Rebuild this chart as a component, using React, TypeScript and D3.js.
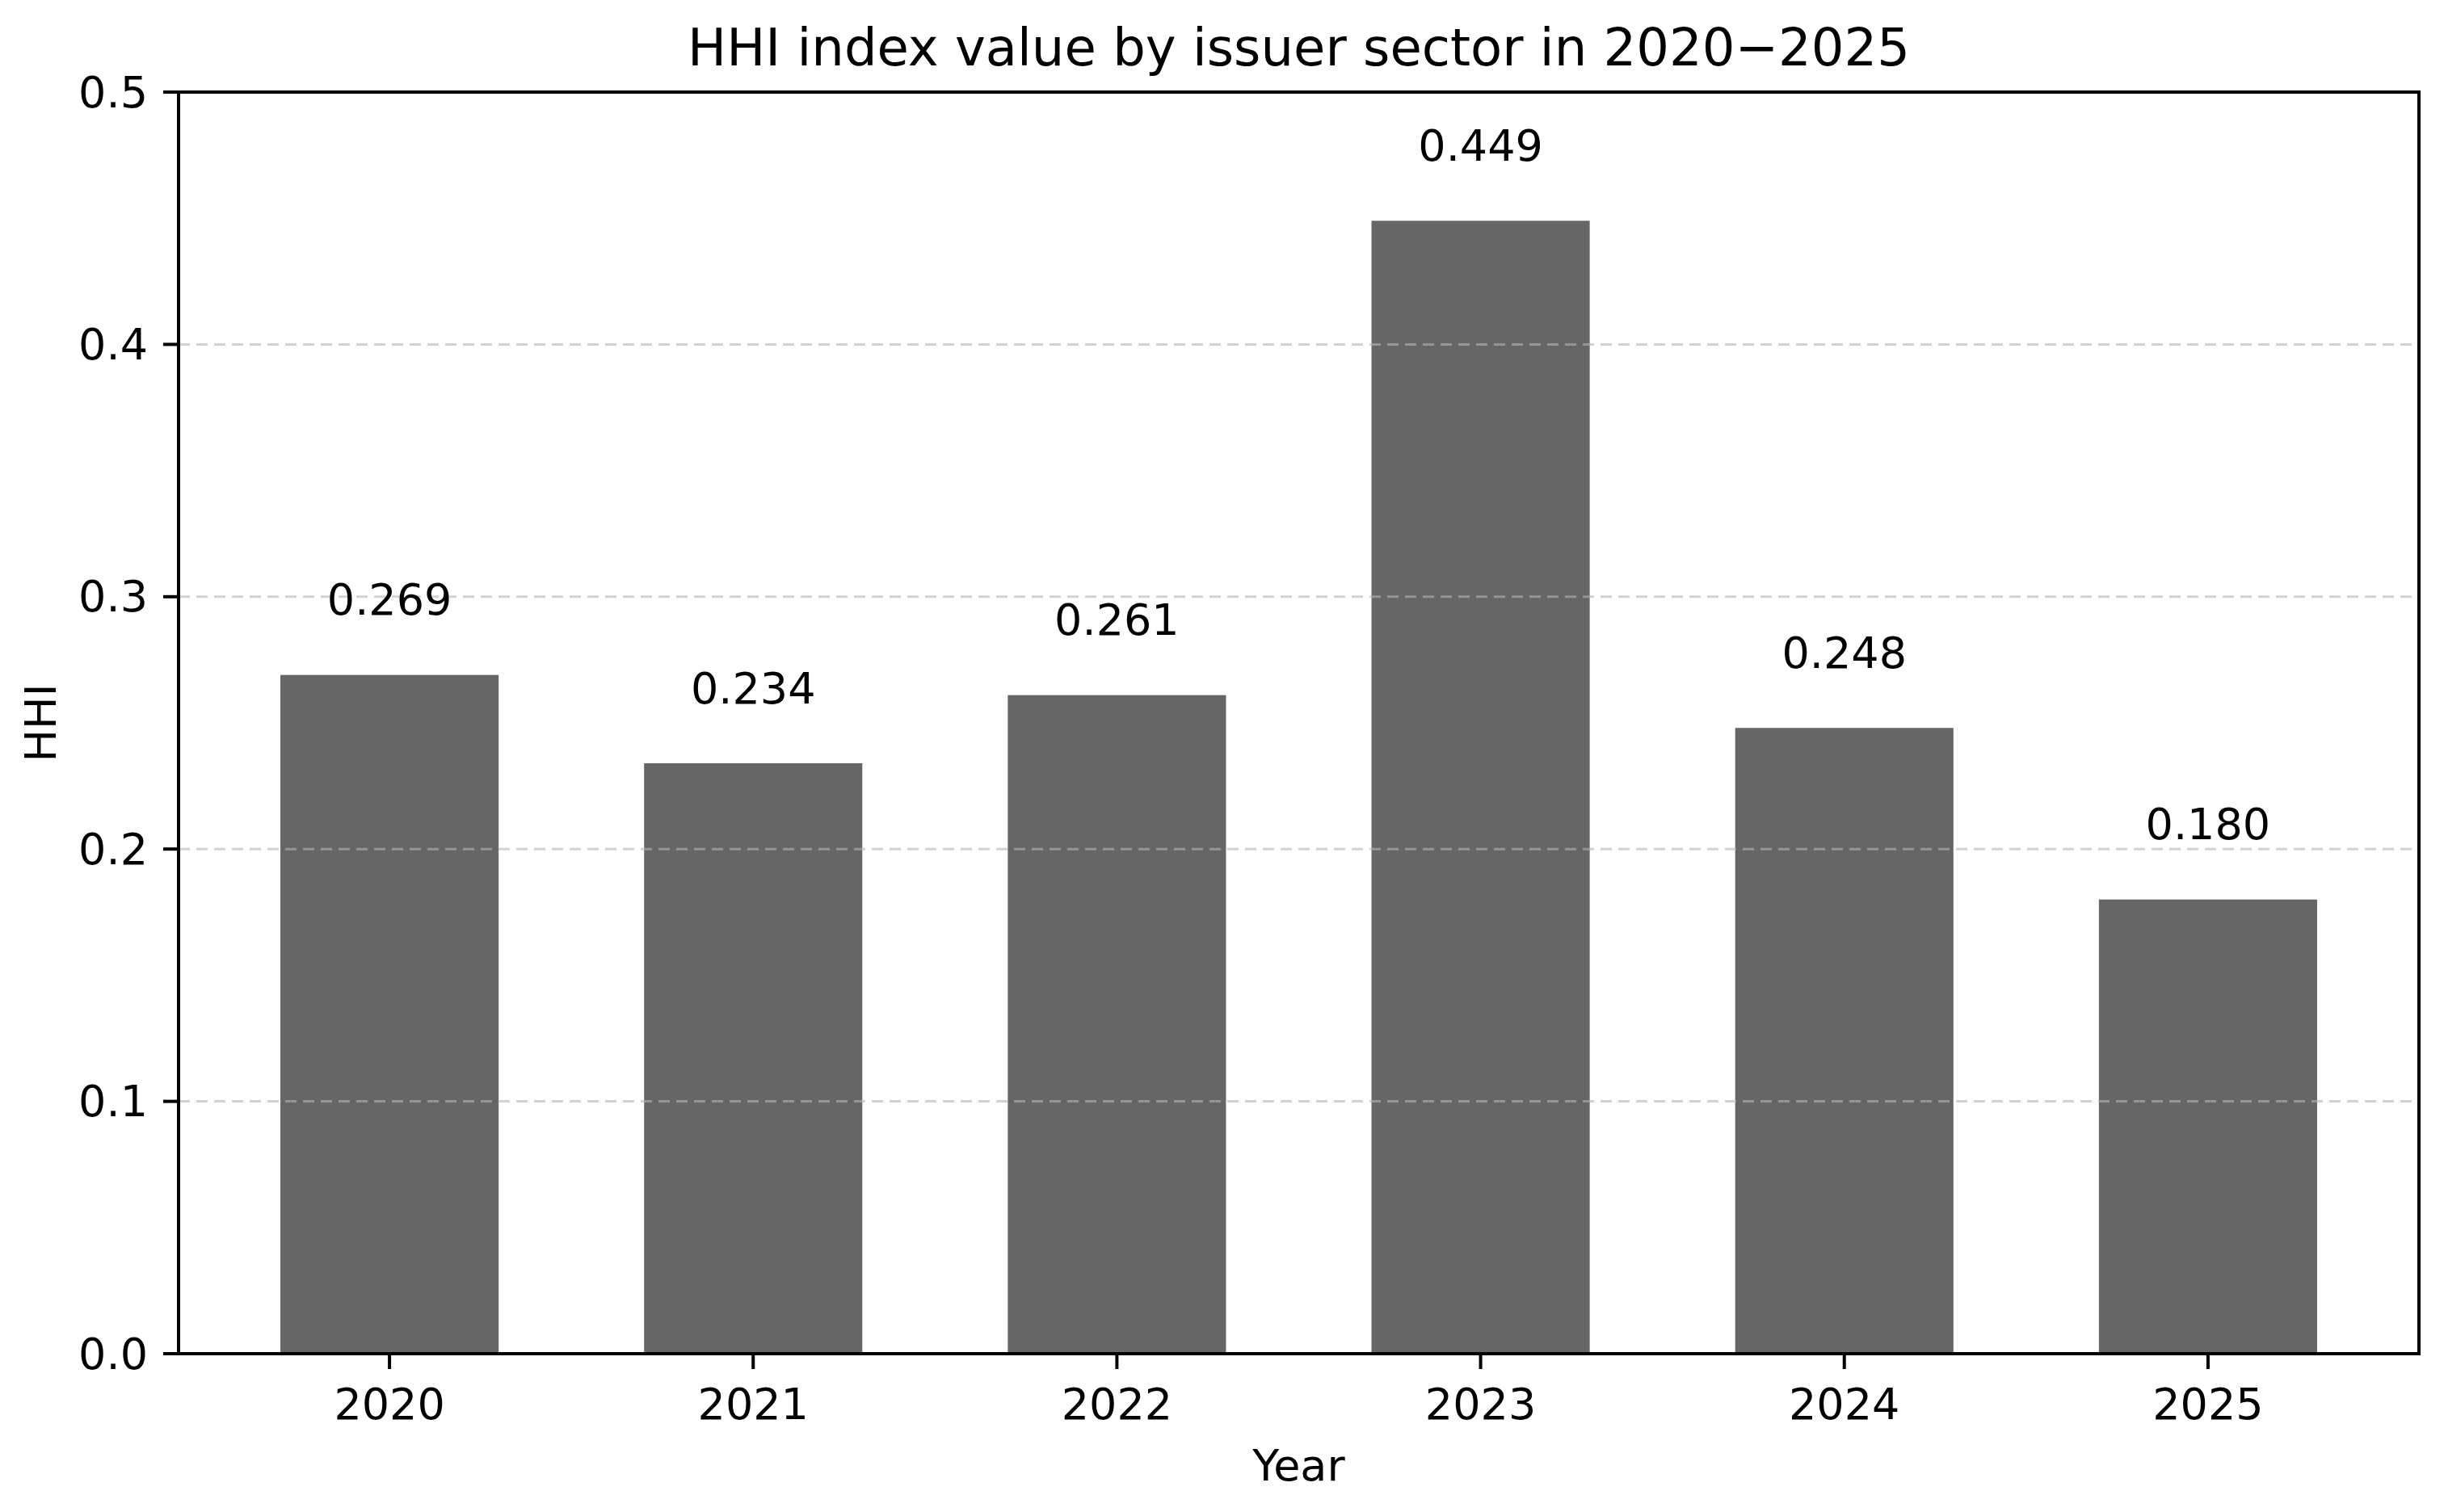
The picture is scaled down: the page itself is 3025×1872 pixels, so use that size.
import React, { useEffect } from 'react';
import * as d3 from 'd3';

const years = ['2020', '2021', '2022', '2023', '2024', '2025'];
const hhiValues = [0.269, 0.234, 0.261, 0.449, 0.248, 0.18];
const yTicks = [0, 0.1, 0.2, 0.3, 0.4, 0.5];
const gridTicks = [0.1, 0.2, 0.3, 0.4];

const title = 'HHI index value by issuer sector in 2020\u22122025';
const xLabel = 'Year';
const yLabel = 'HHI';

const W = 3025;
const H = 1872;
const margin = { top: 114, right: 31, bottom: 196, left: 221 };
const font = '"DejaVu Sans", Verdana, sans-serif';

const App: React.FC = () => {
  useEffect(() => {
    document.body.style.margin = '0';
    document.body.style.background = '#fff';
  }, []);

  const x = d3.scaleBand<string>()
    .domain(years)
    .range([margin.left, W - margin.right])
    .paddingInner(0.4)
    .paddingOuter(0.28);

  const y = d3.scaleLinear()
    .domain([0, 0.5])
    .range([H - margin.bottom, margin.top]);

  const left = margin.left;
  const right = W - margin.right;
  const top = margin.top;
  const bottom = H - margin.bottom;
  const tickLen = 19;
  const midX = (left + right) / 2;
  const midY = (top + bottom) / 2;

  return (
    <svg width={W} height={H} style={{ display: 'block', background: '#fff' }} fontFamily={font}>
      {/* bars */}
      {years.map((yr, i) => (
        <rect
          key={yr}
          x={x(yr)}
          y={y(hhiValues[i])}
          width={x.bandwidth()}
          height={y(0) - y(hhiValues[i])}
          fill="#666666"
        />
      ))}

      {/* grid lines, drawn over the bars like matplotlib */}
      {gridTicks.map(t => (
        <line
          key={t}
          x1={left}
          x2={right}
          y1={y(t)}
          y2={y(t)}
          stroke="#b4b4b4"
          strokeOpacity={0.6}
          strokeWidth={3}
          strokeDasharray="14,8"
        />
      ))}

      {/* value labels */}
      {years.map((yr, i) => (
        <text
          key={yr}
          x={(x(yr) ?? 0) + x.bandwidth() / 2}
          y={y(hhiValues[i] + 0.02) - 12}
          textAnchor="middle"
          fontSize={54}
          fill="#000"
        >
          {hhiValues[i].toFixed(3)}
        </text>
      ))}

      {/* frame */}
      <rect x={left} y={top} width={right - left} height={bottom - top} fill="none" stroke="#000" strokeWidth={4} />

      {/* y ticks */}
      {yTicks.map(t => (
        <g key={t}>
          <line x1={left - tickLen} x2={left} y1={y(t)} y2={y(t)} stroke="#000" strokeWidth={4} />
          <text x={left - tickLen - 19} y={y(t)} textAnchor="end" dominantBaseline="central" fontSize={54}>
            {t.toFixed(1)}
          </text>
        </g>
      ))}

      {/* x ticks */}
      {years.map(yr => {
        const cx = (x(yr) ?? 0) + x.bandwidth() / 2;
        return (
          <g key={yr}>
            <line x1={cx} x2={cx} y1={bottom} y2={bottom + tickLen} stroke="#000" strokeWidth={4} />
            <text x={cx} y={bottom + 81} textAnchor="middle" fontSize={54}>{yr}</text>
          </g>
        );
      })}

      {/* axis labels and title */}
      <text x={midX} y={bottom + 157} textAnchor="middle" fontSize={54}>{xLabel}</text>
      <text transform={`translate(69,${midY}) rotate(-90)`} textAnchor="middle" fontSize={54}>{yLabel}</text>
      <text x={midX} y={81} textAnchor="middle" fontSize={64}>{title}</text>
    </svg>
  );
};

export default App;
